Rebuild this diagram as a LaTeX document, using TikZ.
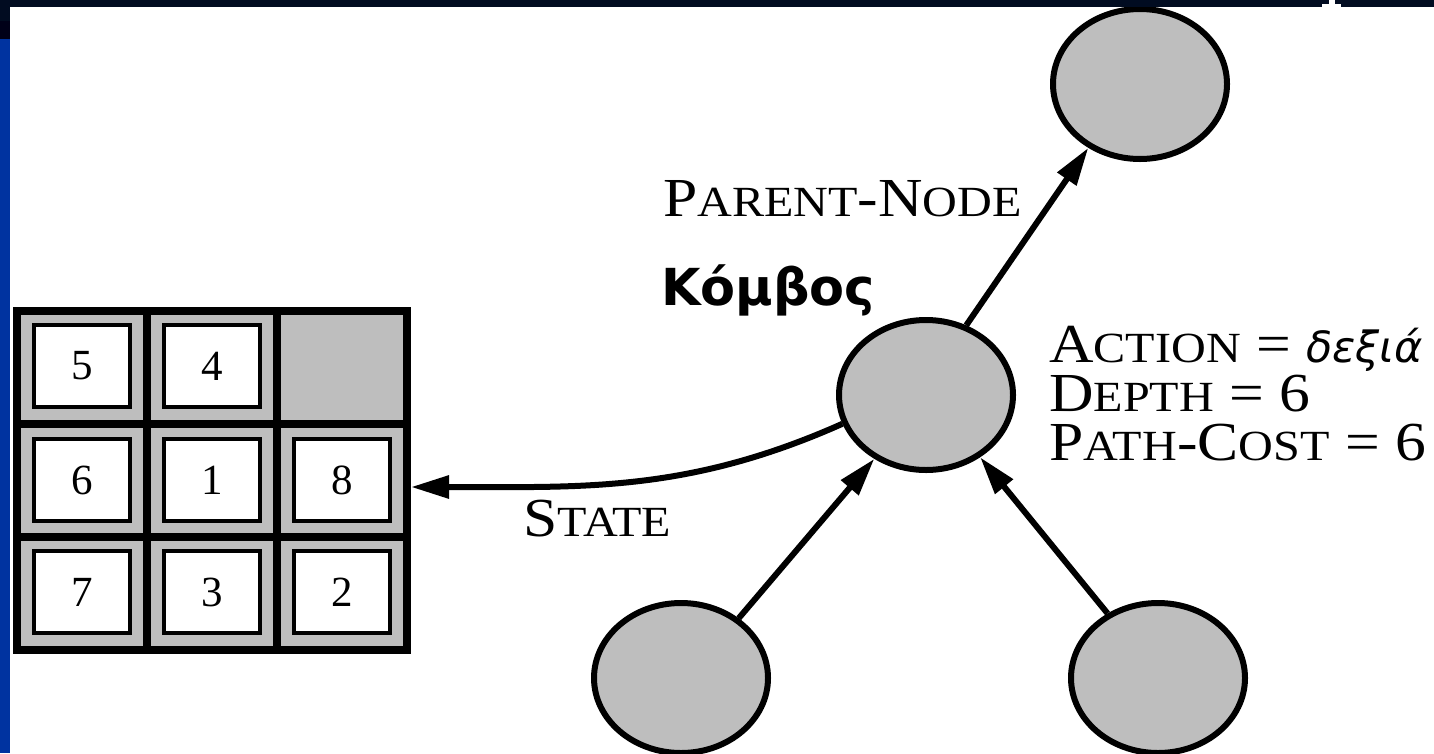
\documentclass[tikz,border=0pt]{standalone}
\usepackage{fontspec}
\setmainfont{Liberation Serif}
\newfontfamily\labelfont{Liberation Serif}[FakeStretch=1.12]
\newfontfamily\greekfont{DejaVu Sans}
\usetikzlibrary{arrows.meta,shapes.geometric}

\definecolor{cellgray}{RGB}{190,190,190}
\definecolor{barnavy}{RGB}{1,12,33}
\definecolor{stripdark}{RGB}{0,0,24}
\definecolor{stripblue}{RGB}{0,51,160}

% fake small capitals for the field names
\newcommand\smc[1]{{\fontsize{43}{43}\selectfont #1}}

\begin{document}
\begin{tikzpicture}[x=1pt,y=-1pt,
  treenode/.style={ellipse,draw,line width=6pt,fill=cellgray,
    minimum width=174pt,minimum height=150pt,inner sep=0pt},
  link/.style={line width=6pt,-{Triangle[length=38pt,width=22pt]}},
  tile/.style={draw,line width=4pt,fill=white,minimum width=96pt,
    minimum height=82pt,inner sep=0pt,font=\fontsize{43}{43}\selectfont},
  gridline/.style={line width=8pt},
  lbl/.style={anchor=base west,inner sep=0pt,
    font=\labelfont\fontsize{55}{55}\selectfont}]

\useasboundingbox (0,0) rectangle (1434,753);
\fill[white] (0,0) rectangle (1434,753);

% the board of the 8-puzzle
\node[draw,line width=8pt,fill=cellgray,minimum width=390pt,
  minimum height=339pt,inner sep=0pt] (board) at (212,480) {};
\draw[gridline] (147,310.5) -- (147,649.5);
\draw[gridline] (277,310.5) -- (277,649.5);
\draw[gridline] (17,423.5) -- (407,423.5);
\draw[gridline] (17,536.5) -- (407,536.5);

\node[tile] (t5) at (82,366) {5};
\node[tile] (t4) at (212,366) {4};
\node[tile] (t6) at (82,480) {6};
\node[tile] (t1) at (212,480) {1};
\node[tile] (t8) at (342,480) {8};
\node[tile] (t7) at (82,592) {7};
\node[tile] (t3) at (212,592) {3};
\node[tile] (t2) at (342,592) {2};

% search tree nodes
\node[treenode] (parent) at (1140,84) {};
\node[treenode] (node) at (926,395) {};
\node[treenode] (childl) at (681,678) {};
\node[treenode] (childr) at (1158,678) {};

\coordinate (boardin) at ([yshift=-7pt]board.east);

\draw[link] (node.60) -- (parent.231);
\draw[link] (childl.46) -- (node.231);
\draw[link] (childr.128) -- (node.311);
\draw[link] (node.199) to[out=204,in=0] (boardin);

% labels
\node[lbl] (plabel) at (663,216) {P\smc{ARENT}-N\smc{ODE}};
\node[lbl] (slabel) at (523,536) {S\smc{TATE}};
\node[anchor=base west,inner sep=0pt,
  font=\greekfont\bfseries\fontsize{51}{51}\selectfont] (kombos) at (661,305) {Κόμβος};
% the base anchor of a multi-line node sits on its last line
\node[lbl,align=left,font=\labelfont\fontsize{55}{49}\selectfont] (fields) at (1049,460)
  {A\smc{CTION} = {\greekfont\itshape\fontsize{43}{49}\selectfont δεξιά}\\
   D\smc{EPTH} = 6\\
   P\smc{ATH}-C\smc{OST} = 6};

% slide frame
\fill[barnavy] (0,0) rectangle (1434,7);
\fill[barnavy] (0,0) rectangle (10,21);
\fill[stripdark] (0,21) rectangle (10,39);
\fill[stripblue] (0,39) rectangle (10,753);
\fill[white] (1329,0) rectangle (1335,5);
\fill[white] (1322,4) rectangle (1341,6.5);
\end{tikzpicture}
\end{document}
